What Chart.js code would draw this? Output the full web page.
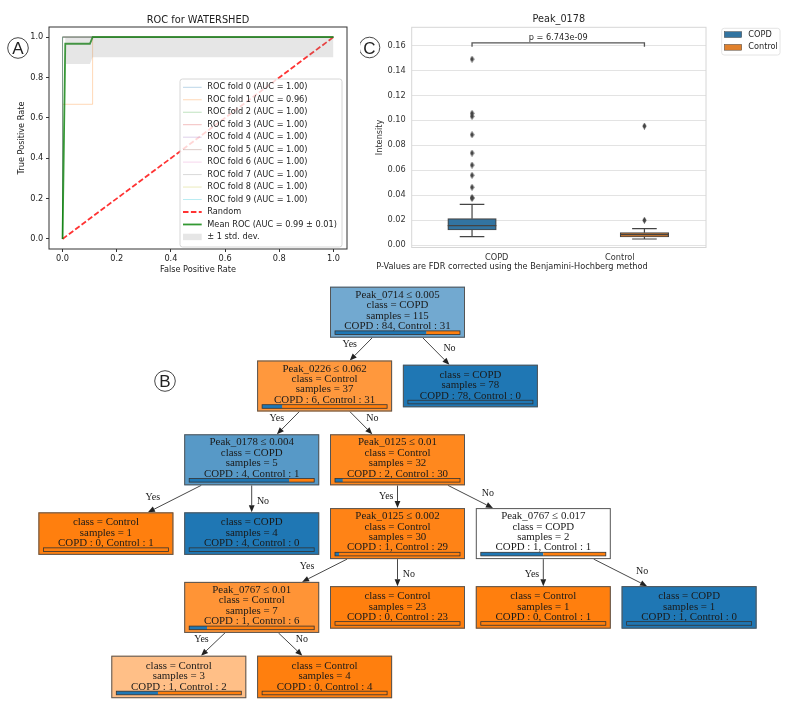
<!DOCTYPE html>
<html><head><meta charset="utf-8">
<script src="https://cdn.jsdelivr.net/npm/chart.js@4.4.0/dist/chart.umd.min.js"></script>
<style>
html,body{margin:0;padding:0;background:#fff;}
#wrap{position:relative;width:788px;height:704px;overflow:hidden;background:#fff;}
canvas{position:absolute;}
</style></head><body>
<div id="wrap">
<canvas id="roc" width="394" height="280" style="left:0;top:0;width:394px;height:280px"></canvas>
<canvas id="box" width="428" height="280" style="left:360px;top:0;width:428px;height:280px"></canvas>
<canvas id="tree" width="788" height="424" style="left:0;top:280px;width:788px;height:424px"></canvas>
</div>
<script>
// ---------------- DATA: ROC (panel A) ----------------
const ROC_TITLE = 'ROC for WATERSHED';
const ROC_TICKS = [0, 0.2, 0.4, 0.6, 0.8, 1.0];
const FOLD_AUC = [1.00, 0.96, 1.00, 1.00, 1.00, 1.00, 1.00, 1.00, 1.00, 1.00];
const FOLD_FPR = [
  [0, 0, 1], [0, 0, 0.111, 0.111, 1], [0, 0, 1], [0, 0, 1], [0, 0, 1],
  [0, 0, 1], [0, 0, 1], [0, 0, 1], [0, 0, 1], [0, 0, 1]
];
const FOLD_TPR = [
  [0, 1, 1], [0, 0.667, 0.667, 1, 1], [0, 1, 1], [0, 1, 1], [0, 1, 1],
  [0, 1, 1], [0, 1, 1], [0, 1, 1], [0, 1, 1], [0, 1, 1]
];
const RANDOM_FPR = [0, 1];
const RANDOM_TPR = [0, 1];
const MEAN_FPR = [0, 0.0101, 0.101, 0.111, 1];
const MEAN_TPR = [0, 0.967, 0.967, 1, 1];
const BAND_FPR = [0, 0.0101, 0.101, 0.111, 1];
const BAND_UPPER = [0, 1, 1, 1, 1];
const BAND_LOWER = [0, 0.867, 0.867, 0.9, 0.9];
const MEAN_AUC = 0.99, STD_AUC = 0.01;

// ---------------- DATA: Box plot (panel C) ----------------
const BOX_TITLE = 'Peak_0178';
const BOX_CATEGORIES = ['COPD', 'Control'];
const BOX_TICKS = [0, 0.02, 0.04, 0.06, 0.08, 0.10, 0.12, 0.14, 0.16];
const BOX_POS = [-0.2, 1.2];
const BOX_Q1 = [0.0122, 0.0066];
const BOX_MEDIAN = [0.0157, 0.0085];
const BOX_Q3 = [0.0213, 0.0101];
const BOX_WHISK_LO = [0.0069, 0.0050];
const BOX_WHISK_HI = [0.0328, 0.0133];
const COPD_OUTLIERS = [0.0381, 0.0376, 0.0464, 0.0560, 0.0642, 0.0738, 0.0885, 0.1032, 0.1056, 0.1490];
const CONTROL_OUTLIERS = [0.0200, 0.0954];
const P_TEXT = 'p = 6.743e-09';
const BRACKET_Y = 0.1621, BRACKET_DROP = 0.0032, P_TEXT_Y = 0.1660;
const BOX_CAPTION = 'P-Values are FDR corrected using the Benjamini-Hochberg method';

// ---------------- DATA: Decision tree (panel B) ----------------
const NODE_FEATURE   = ['Peak_0714','Peak_0226',null,'Peak_0178','Peak_0125',null,null,'Peak_0125','Peak_0767','Peak_0767',null,null,null,null,null];
const NODE_THRESHOLD = ['0.005','0.062',null,'0.004','0.01',null,null,'0.002','0.017','0.01',null,null,null,null,null];
const NODE_COPD      = [84, 6, 78, 4, 2, 0, 4, 1, 1, 1, 0, 0, 1, 1, 0];
const NODE_CONTROL   = [31, 31, 0, 1, 30, 1, 0, 29, 1, 6, 23, 1, 0, 2, 4];
const NODE_PARENT    = [-1, 0, 0, 1, 1, 3, 3, 4, 4, 7, 7, 8, 8, 9, 9];
const NODE_BRANCH    = [null,'Yes','No','Yes','No','Yes','No','Yes','No','Yes','No','Yes','No','Yes','No'];
// layout (grid column of each node)
const NODE_COL       = [0, -1, 1, -2, 0, -4, -2, 0, 2, -2, 0, 2, 4, -3, -1];

// ---------------- styles ----------------
const TAB10 = ['#1f77b4','#ff7f0e','#2ca02c','#d62728','#9467bd','#8c564b','#e377c2','#7f7f7f','#bcbd22','#17becf'];
const SANS = 'DejaVu Sans';
const SERIF = 'Liberation Serif';
function rgba(hex, a){ const n = parseInt(hex.slice(1),16); return `rgba(${n>>16},${(n>>8)&255},${n&255},${a})`; }
const pts = (xs, ys) => xs.map((x, i) => ({x, y: ys[i]}));

function circledLetter(ctx, letter, x, y){
  ctx.save();
  ctx.beginPath(); ctx.arc(x, y, 10.3, 0, Math.PI*2);
  ctx.strokeStyle = '#333'; ctx.lineWidth = 0.9; ctx.stroke();
  ctx.fillStyle = '#222'; ctx.font = '17px "Liberation Sans"';
  ctx.textAlign = 'center'; ctx.textBaseline = 'alphabetic';
  ctx.fillText(letter, x, y + 6.1);
  ctx.restore();
}

// ================= ROC chart =================
const rocDatasets = [];
FOLD_FPR.forEach((f, i) => rocDatasets.push({
  label: `ROC fold ${i} (AUC = ${FOLD_AUC[i].toFixed(2)})`, data: pts(f, FOLD_TPR[i]),
  borderColor: rgba(TAB10[i], 0.3), borderWidth: 1, legendType: 'line'
}));
rocDatasets.push({label: 'Random', data: pts(RANDOM_FPR, RANDOM_TPR), borderColor: 'rgba(255,0,0,0.8)', borderWidth: 1.8, borderDash: [5.5, 2.4], legendType: 'line'});
rocDatasets.push({label: `Mean ROC (AUC = ${MEAN_AUC.toFixed(2)} \u00b1 ${STD_AUC.toFixed(2)})`, data: pts(MEAN_FPR, MEAN_TPR), borderColor: 'rgba(0,128,0,0.8)', borderWidth: 1.8, legendType: 'line'});
const upperIdx = rocDatasets.length;
rocDatasets.push({label: 'upper', data: pts(BAND_FPR, BAND_UPPER), borderColor: 'rgba(0,0,0,0)', borderWidth: 1, legendType: 'none'});
rocDatasets.push({label: '\u00b1 1 std. dev.', data: pts(BAND_FPR, BAND_LOWER), borderColor: 'rgba(0,0,0,0)', borderWidth: 1,
  fill: upperIdx, backgroundColor: 'rgba(128,128,128,0.2)', legendType: 'rect'});
rocDatasets.forEach((d, i) => { d.order = -i; d.pointRadius = 0; d.showLine = true; d.tension = 0; if (d.fill === undefined) d.fill = false; });

const rocDecor = {
  id: 'rocDecor',
  afterDatasetsDraw(chart){
    const {ctx, chartArea: a} = chart;
    ctx.save();
    ctx.strokeStyle = '#333'; ctx.lineWidth = 1;
    ctx.strokeRect(a.left, a.top, a.right - a.left, a.bottom - a.top);
    ctx.restore();
  },
  afterDraw(chart){
    const {ctx, chartArea: a} = chart;
    ctx.save();
    ctx.fillStyle = '#222'; ctx.font = `9.8px "${SANS}"`; ctx.textAlign = 'center'; ctx.textBaseline = 'middle';
    ctx.fillText(ROC_TITLE, (a.left + a.right)/2, 20);
    // legend
    const entries = chart.data.datasets.filter(d => d.legendType !== 'none');
    const lx = 180, ly = 79, lw = 162, lh = 168;
    ctx.beginPath(); ctx.roundRect(lx, ly, lw, lh, 2.5);
    ctx.fillStyle = 'rgba(255,255,255,0.8)'; ctx.fill();
    ctx.strokeStyle = '#cccccc'; ctx.lineWidth = 0.8; ctx.stroke();
    ctx.font = `8.2px "${SANS}"`; ctx.textAlign = 'left';
    entries.forEach((d, i) => {
      const y = 87.3 + 12.47 * i;
      if (d.legendType === 'rect'){
        ctx.fillStyle = d.backgroundColor; ctx.fillRect(183, y - 3.2, 18.7, 6.4);
      } else {
        ctx.beginPath(); ctx.moveTo(183, y); ctx.lineTo(201.7, y);
        ctx.strokeStyle = d.borderColor; ctx.lineWidth = d.borderWidth; ctx.setLineDash(d.borderDash || []);
        ctx.stroke(); ctx.setLineDash([]);
      }
      ctx.fillStyle = '#222'; ctx.fillText(d.label, 207.3, y);
    });
    circledLetter(ctx, 'A', 18, 48);
    ctx.restore();
  }
};

new Chart(document.getElementById('roc'), {
  type: 'scatter',
  data: {datasets: rocDatasets},
  options: {
    responsive: false, animation: false, devicePixelRatio: 1,
    layout: {padding: {left: 0, top: 27, right: 47, bottom: 0}},
    plugins: {legend: {display: false}, tooltip: {enabled: false}},
    scales: {
      x: {type: 'linear', min: -0.05, max: 1.05, bounds: 'data',
        afterBuildTicks: s => { s.ticks = ROC_TICKS.map(v => ({value: v})); },
        afterFit: s => { s.height = 31; },
        ticks: {callback: v => Number(v).toFixed(1), color: '#222', font: {family: SANS, size: 8.2}, padding: 1.5, maxRotation: 0, autoSkip: false},
        grid: {drawOnChartArea: false, drawTicks: true, tickLength: 3, color: '#333', tickColor: '#333'},
        border: {display: false},
        title: {display: true, text: 'False Positive Rate', color: '#222', font: {family: SANS, size: 8.2}, padding: {top: 0, bottom: 5.1}}
      },
      y: {type: 'linear', min: -0.05, max: 1.05, bounds: 'data',
        afterBuildTicks: s => { s.ticks = ROC_TICKS.map(v => ({value: v})); },
        afterFit: s => { s.width = 49; },
        ticks: {callback: v => Number(v).toFixed(1), color: '#222', font: {family: SANS, size: 8.2}, padding: 2.7, autoSkip: false},
        grid: {drawOnChartArea: false, drawTicks: true, tickLength: 3, color: '#333', tickColor: '#333'},
        border: {display: false},
        title: {display: true, text: 'True Positive Rate', color: '#222', font: {family: SANS, size: 8.2}, padding: {top: 17, bottom: 0}}
      }
    }
  },
  plugins: [rocDecor]
});

// ================= Box plot chart =================
const BOX_COLORS = ['#3274a1', '#e1812c'];
const BOX_LINE = '#444444';
const diamond = document.createElement('canvas');
diamond.width = 5; diamond.height = 7;
(() => { const c = diamond.getContext('2d'); c.beginPath(); c.moveTo(2.5, 0); c.lineTo(4.6, 3.5); c.lineTo(2.5, 7); c.lineTo(0.4, 3.5); c.closePath(); c.fillStyle = BOX_LINE; c.fill(); })();

const boxDecor = {
  id: 'boxDecor',
  beforeDatasetsDraw(chart){
    const {ctx, chartArea: a} = chart;
    ctx.save(); ctx.strokeStyle = '#d6d6d6'; ctx.lineWidth = 1;
    ctx.strokeRect(a.left, a.top, a.right - a.left, a.bottom - a.top);
    ctx.restore();
  },
  afterDatasetsDraw(chart){
    const {ctx, chartArea: a, scales: {x, y}} = chart;
    ctx.save();
    ctx.strokeStyle = BOX_LINE; ctx.lineWidth = 1.2;
    BOX_POS.forEach((p, i) => {
      const cx = x.getPixelForValue(p);
      const half = (x.getPixelForValue(p + 0.2) - cx) - 0.3;
      const cap = x.getPixelForValue(p + 0.1) - cx;
      ctx.beginPath();
      ctx.moveTo(cx, y.getPixelForValue(BOX_Q1[i])); ctx.lineTo(cx, y.getPixelForValue(BOX_WHISK_LO[i]));
      ctx.moveTo(cx, y.getPixelForValue(BOX_Q3[i])); ctx.lineTo(cx, y.getPixelForValue(BOX_WHISK_HI[i]));
      ctx.moveTo(cx - cap, y.getPixelForValue(BOX_WHISK_LO[i])); ctx.lineTo(cx + cap, y.getPixelForValue(BOX_WHISK_LO[i]));
      ctx.moveTo(cx - cap, y.getPixelForValue(BOX_WHISK_HI[i])); ctx.lineTo(cx + cap, y.getPixelForValue(BOX_WHISK_HI[i]));
      ctx.moveTo(cx - half, y.getPixelForValue(BOX_MEDIAN[i])); ctx.lineTo(cx + half, y.getPixelForValue(BOX_MEDIAN[i]));
      ctx.stroke();
    });
    // significance bracket
    const x0 = x.getPixelForValue(BOX_POS[0]), x1 = x.getPixelForValue(BOX_POS[1]);
    const yb = y.getPixelForValue(BRACKET_Y), yd = y.getPixelForValue(BRACKET_Y - BRACKET_DROP);
    ctx.lineWidth = 1.3; ctx.strokeStyle = '#555';
    ctx.beginPath(); ctx.moveTo(x0, yd); ctx.lineTo(x0, yb); ctx.lineTo(x1, yb); ctx.lineTo(x1, yd); ctx.stroke();
    ctx.fillStyle = '#262626'; ctx.font = `8.2px "${SANS}"`; ctx.textAlign = 'center'; ctx.textBaseline = 'middle';
    ctx.fillText(P_TEXT, x.getPixelForValue((BOX_POS[0] + BOX_POS[1]) / 2), y.getPixelForValue(P_TEXT_Y));
    ctx.restore();
  },
  afterDraw(chart){
    const {ctx, chartArea: a} = chart;
    ctx.save();
    ctx.fillStyle = '#262626'; ctx.textAlign = 'center'; ctx.textBaseline = 'middle';
    ctx.font = `9.7px "${SANS}"`;
    ctx.fillText(BOX_TITLE, (a.left + a.right) / 2, 19.3);
    ctx.font = `8.2px "${SANS}"`;
    ctx.fillText(BOX_CAPTION, 152, 266.5);
    // legend
    ctx.beginPath(); ctx.roundRect(361.7, 28.3, 58.3, 26.7, 2.5);
    ctx.fillStyle = 'rgba(255,255,255,0.8)'; ctx.fill();
    ctx.strokeStyle = '#dddddd'; ctx.lineWidth = 0.8; ctx.stroke();
    ctx.textAlign = 'left';
    BOX_CATEGORIES.forEach((c, i) => {
      const yy = 34.6 + 12.7 * i;
      ctx.fillStyle = BOX_COLORS[i]; ctx.fillRect(364.3, yy - 2.9, 17.4, 5.8);
      ctx.strokeStyle = BOX_LINE; ctx.lineWidth = 0.5; ctx.strokeRect(364.3, yy - 2.9, 17.4, 5.8);
      ctx.fillStyle = '#262626'; ctx.fillText(c, 388.3, yy);
    });
    circledLetter(ctx, 'C', 9.5, 47.5);
    ctx.restore();
  }
};

new Chart(document.getElementById('box'), {
  type: 'bar',
  data: {datasets: [
    {type: 'bar', label: 'box', data: BOX_POS.map((p, i) => ({x: p, y: [BOX_Q1[i], BOX_Q3[i]]})),
      backgroundColor: BOX_COLORS, borderColor: BOX_LINE, borderWidth: 1.2, borderSkipped: false,
      barThickness: 48.5, grouped: false, order: 2},
    {type: 'scatter', label: 'COPD outliers', data: COPD_OUTLIERS.map(v => ({x: BOX_POS[0], y: v})),
      pointStyle: diamond, pointRadius: 3, order: 1},
    {type: 'scatter', label: 'Control outliers', data: CONTROL_OUTLIERS.map(v => ({x: BOX_POS[1], y: v})),
      pointStyle: diamond, pointRadius: 3, order: 1}
  ]},
  options: {
    responsive: false, animation: false, devicePixelRatio: 1,
    layout: {padding: {left: 0, top: 27.3, right: 82, bottom: 0}},
    plugins: {legend: {display: false}, tooltip: {enabled: false}},
    scales: {
      x: {type: 'linear', min: -0.69, max: 1.70, offset: false, bounds: 'data',
        afterBuildTicks: s => { s.ticks = BOX_CATEGORIES.map((c, i) => ({value: i})); },
        afterFit: s => { s.height = 32.5; },
        ticks: {callback: v => BOX_CATEGORIES[Math.round(v)], color: '#333', font: {family: SANS, size: 8.2}, padding: 5, maxRotation: 0, autoSkip: false},
        grid: {display: false, drawTicks: false, tickLength: 0}, border: {display: false}
      },
      y: {type: 'linear', min: -0.0018, max: 0.1745, bounds: 'data',
        afterBuildTicks: s => { s.ticks = BOX_TICKS.map(v => ({value: v})); },
        afterFit: s => { s.width = 51.7; },
        ticks: {callback: v => Number(v).toFixed(2), color: '#333', font: {family: SANS, size: 8.2}, padding: 6, autoSkip: false},
        grid: {drawTicks: false, tickLength: 0, color: '#e3e3e3', lineWidth: 1}, border: {display: false},
        title: {display: true, text: 'Intensity', color: '#333', font: {family: SANS, size: 8.2}, padding: {top: 15.1, bottom: 0}}
      }
    }
  },
  plugins: [boxDecor]
});

// ================= Decision tree =================
const SPLIT_H = 51, LEAF_H = 42.5, RANKSEP = 22.8, NODE_W = 135;
const COL_PX = 72.9, ROOT_X = 397.5, TREE_TOP = 6.7, TREE_H = 424, TREE_W = 788;
const COPD_RGB = [31, 119, 180], CONTROL_RGB = [255, 127, 14];
const isSplit = i => NODE_FEATURE[i] !== null;
const depth = NODE_PARENT.map((p, i) => { let d = 0, k = i; while (NODE_PARENT[k] >= 0) { k = NODE_PARENT[k]; d++; } return d; });
const maxDepth = Math.max(...depth);
const rankCenter = [];
{ let top = 0;
  for (let d = 0; d <= maxDepth; d++) {
    const h = NODE_FEATURE.some((f, i) => depth[i] === d && f !== null) ? SPLIT_H : LEAF_H;
    rankCenter.push(top + h / 2); top += h + RANKSEP;
  } }
function nodeColor(i){
  const c = NODE_COPD[i], k = NODE_CONTROL[i], n = c + k;
  const pc = c / n, pk = k / n;
  const major = c >= k ? COPD_RGB : CONTROL_RGB;
  const pmax = Math.max(pc, pk), p2 = Math.min(pc, pk);
  const al = (pmax - p2) / (1 - p2);
  const m = major.map(v => Math.round(al * v + (1 - al) * 255));
  return `rgb(${m[0]},${m[1]},${m[2]})`;
}

const treeDecor = {
  id: 'treeDecor',
  afterDatasetsDraw(chart){
    const {ctx} = chart;
    const els = chart.getDatasetMeta(0).data;
    const H = i => isSplit(i) ? SPLIT_H : LEAF_H;
    ctx.save();
    // edges
    NODE_PARENT.forEach((p, i) => {
      if (p < 0) return;
      const px = els[p].x, py = els[p].y, cx = els[i].x, cy = els[i].y;
      const yb = py + H(p) / 2, yt = cy - H(i) / 2;
      const t0 = (yb - py) / (cy - py), t1 = (yt - py) / (cy - py);
      const sx = px + (cx - px) * t0, ex = px + (cx - px) * t1;
      const dx = ex - sx, dy = yt - yb, L = Math.hypot(dx, dy), ux = dx / L, uy = dy / L;
      const AL = 7, AW = 2.9;
      ctx.strokeStyle = '#333'; ctx.fillStyle = '#222'; ctx.lineWidth = 0.9;
      ctx.beginPath(); ctx.moveTo(sx, yb); ctx.lineTo(ex - ux * AL, yt - uy * AL); ctx.stroke();
      ctx.beginPath(); ctx.moveTo(ex, yt);
      ctx.lineTo(ex - ux * AL - uy * AW, yt - uy * AL + ux * AW);
      ctx.lineTo(ex - ux * AL + uy * AW, yt - uy * AL - ux * AW);
      ctx.closePath(); ctx.fill();
      // label
      const bx = -ux, by = -uy, th = (NODE_BRANCH[i] === 'Yes' ? -1 : 1) * Math.PI / 4;
      const lx = ex + 16 * (bx * Math.cos(th) - by * Math.sin(th));
      const ly = yt + 16 * (bx * Math.sin(th) + by * Math.cos(th));
      ctx.fillStyle = '#1a1a1a'; ctx.font = `10px "${SERIF}"`; ctx.textAlign = 'center'; ctx.textBaseline = 'middle';
      ctx.fillText(NODE_BRANCH[i], lx, ly);
    });
    // nodes
    els.forEach((el, i) => {
      const h = H(i), left = el.x - NODE_W / 2, top = el.y - h / 2;
      ctx.fillStyle = nodeColor(i); ctx.fillRect(left, top, NODE_W, h);
      ctx.strokeStyle = '#555'; ctx.lineWidth = 1; ctx.strokeRect(left + 0.5, top + 0.5, NODE_W - 1, h - 1);
      const c = NODE_COPD[i], k = NODE_CONTROL[i], n = c + k;
      const lines = [];
      if (isSplit(i)) lines.push(`${NODE_FEATURE[i]} \u2264 ${NODE_THRESHOLD[i]}`);
      lines.push(`class = ${c >= k ? 'COPD' : 'Control'}`, `samples = ${n}`, `COPD : ${c}, Control : ${k}`);
      const off0 = isSplit(i) ? 7.8 : 9.5, step = isSplit(i) ? 10.4 : 10.6;
      ctx.fillStyle = '#1a1a1a'; ctx.font = `10.9px "${SERIF}"`; ctx.textAlign = 'center'; ctx.textBaseline = 'middle';
      lines.forEach((s, j) => ctx.fillText(s, el.x, top + off0 + step * j + 0.5));
      // proportion bar
      const by0 = top + (isSplit(i) ? 46 : 37.3) - 1.8, bx0 = left + 5, bw = NODE_W - 10, bh = 3.6;
      ctx.fillStyle = '#1f77b4'; ctx.fillRect(bx0, by0, bw * c / n, bh);
      ctx.fillStyle = '#ff7f0e'; ctx.fillRect(bx0 + bw * c / n, by0, bw * k / n, bh);
      ctx.strokeStyle = '#333'; ctx.lineWidth = 0.8; ctx.strokeRect(bx0, by0, bw, bh);
    });
    circledLetter(ctx, 'B', 165, 101);
    ctx.restore();
  }
};

new Chart(document.getElementById('tree'), {
  type: 'scatter',
  data: {datasets: [{label: 'nodes', data: NODE_COL.map((c, i) => ({x: c, y: rankCenter[depth[i]]})), pointRadius: 0}]},
  options: {
    responsive: false, animation: false, devicePixelRatio: 1,
    layout: {padding: 0},
    plugins: {legend: {display: false}, tooltip: {enabled: false}},
    scales: {
      x: {type: 'linear', display: false, min: -ROOT_X / COL_PX, max: (TREE_W - ROOT_X) / COL_PX, bounds: 'data'},
      y: {type: 'linear', display: false, reverse: true, min: -TREE_TOP, max: TREE_H - TREE_TOP, bounds: 'data'}
    }
  },
  plugins: [treeDecor]
});
</script>
</body></html>
